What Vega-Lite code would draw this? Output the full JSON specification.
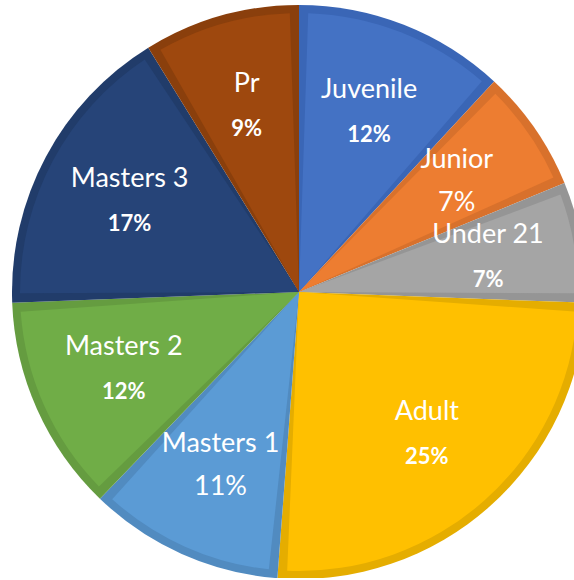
{
  "$schema": "https://vega.github.io/schema/vega-lite/v6.json",
  "width": 554,
  "height": 572,
  "autosize": {"type": "none"},
  "padding": {"left": 22, "top": 6, "right": 0, "bottom": 0},
  "background": "white",
  "view": {"stroke": null},
  "data": {
    "values": [
      {"idx": 1, "category": "Juvenile", "value": 11.9, "label": "12%"},
      {"idx": 2, "category": "Junior", "value": 6.9, "label": "7%"},
      {"idx": 3, "category": "Under 21", "value": 6.8, "label": "7%"},
      {"idx": 4, "category": "Adult", "value": 25.6, "label": "25%"},
      {"idx": 5, "category": "Masters 1", "value": 11.0, "label": "11%"},
      {"idx": 6, "category": "Masters 2", "value": 12.2, "label": "12%"},
      {"idx": 7, "category": "Masters 3", "value": 16.8, "label": "17%"},
      {"idx": 8, "category": "Pr", "value": 8.8, "label": "9%"}
    ]
  },
  "encoding": {
    "theta": {"field": "value", "type": "quantitative", "stack": true},
    "order": {"field": "idx", "type": "quantitative", "sort": "ascending"}
  },
  "layer": [
    {
      "mark": {"type": "arc", "outerRadius": 287},
      "encoding": {
        "color": {
          "field": "category", "type": "nominal", "legend": null,
          "scale": {
            "domain": ["Juvenile", "Junior", "Under 21", "Adult", "Masters 1", "Masters 2", "Masters 3", "Pr"],
            "range": ["#3A66B6", "#D8712C", "#959595", "#E5AD00", "#518BC0", "#659C40", "#213C6A", "#8A3F0C"]
          }
        }
      }
    },
    {
      "mark": {"type": "arc", "outerRadius": 279, "padAngle": 0.066},
      "encoding": {
        "color": {
          "field": "category", "type": "nominal", "legend": null,
          "scale": {
            "domain": ["Juvenile", "Junior", "Under 21", "Adult", "Masters 1", "Masters 2", "Masters 3", "Pr"],
            "range": ["#4472C4", "#ED7D31", "#A5A5A5", "#FFC000", "#5B9BD5", "#70AD47", "#264478", "#9E480E"]
          }
        }
      }
    },
    {
      "mark": {"type": "text", "radius": 192, "dy": -23, "font": "Lato", "fontSize": 27, "color": "white"},
      "encoding": {"text": {"field": "category", "type": "nominal"}}
    },
    {
      "mark": {"type": "text", "radius": 192, "dy": 22, "font": "Lato", "fontSize": 22, "fontWeight": "bold", "color": "white"},
      "encoding": {
        "text": {
          "condition": {"test": "datum.category !== 'Junior' && datum.category !== 'Masters 1'", "field": "label", "type": "nominal"},
          "value": ""
        }
      }
    },
    {
      "mark": {"type": "text", "radius": 192, "dy": 20, "font": "Lato", "fontSize": 27, "color": "white"},
      "encoding": {
        "text": {
          "condition": {"test": "datum.category === 'Junior' || datum.category === 'Masters 1'", "field": "label", "type": "nominal"},
          "value": ""
        }
      }
    }
  ],
  "resolve": {"scale": {"color": "independent"}}
}
